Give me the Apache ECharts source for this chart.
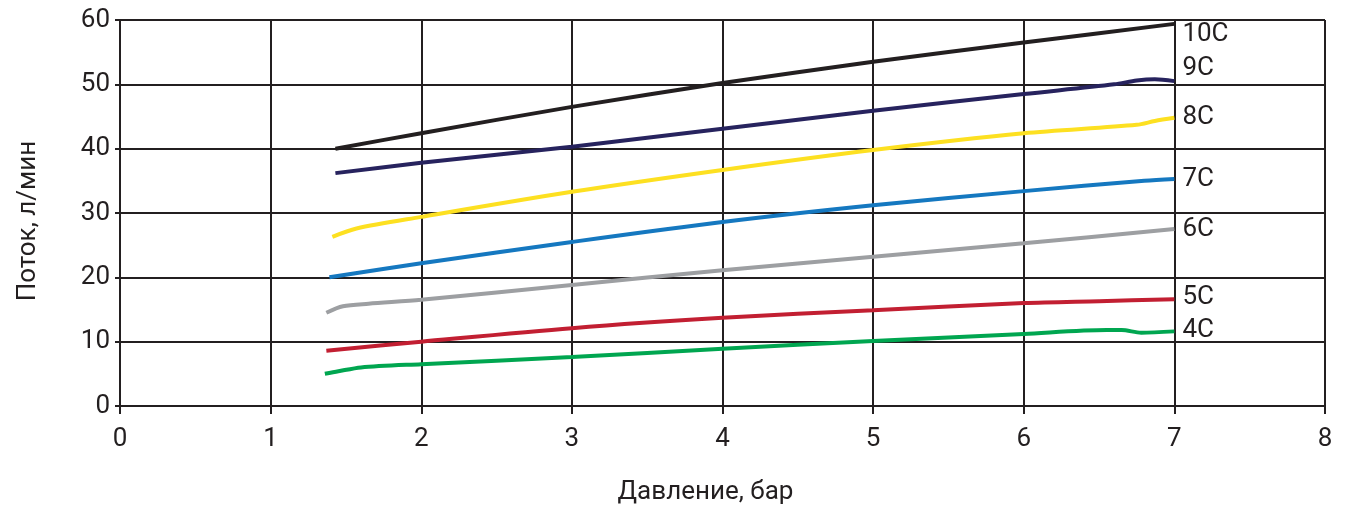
<!DOCTYPE html>
<html><head><meta charset="utf-8">
<script src="https://cdn.jsdelivr.net/npm/echarts@6/dist/echarts.min.js"></script>
<style>html,body{margin:0;padding:0;background:#fff}#c{width:1349px;height:515px}</style>
</head><body><div id="c"></div>
<script>
var seriesNames = ['10C','9C','8C','7C','6C','5C','4C'];
var s10C = [[1.43,40],[2,42.4],[3,46.5],[4,50.2],[5,53.5],[6,56.5],[7,59.4]];
var s9C = [[1.43,36.2],[2,37.8],[3,40.3],[4,43.1],[5,45.9],[6,48.5],[6.6,50.0],[6.75,50.6],[6.87,50.8],[7,50.5]];
var s8C = [[1.41,26.3],[1.57,27.6],[2,29.4],[3,33.3],[4,36.7],[5,39.8],[6,42.4],[6.75,43.7],[6.87,44.3],[7,44.8]];
var s7C = [[1.39,20.0],[2,22.2],[3,25.5],[4,28.6],[5,31.2],[6,33.4],[6.8,35.0],[7,35.3]];
var s6C = [[1.37,14.5],[1.48,15.5],[1.65,15.9],[2,16.5],[3,18.8],[4,21.1],[5,23.2],[6,25.3],[7,27.5]];
var s5C = [[1.37,8.6],[2,10.0],[3,12.1],[4,13.7],[5,14.9],[6,16.0],[6.5,16.3],[7,16.6]];
var s4C = [[1.36,5.0],[1.45,5.4],[1.6,6.0],[2,6.5],[3,7.6],[4,8.9],[5,10.1],[6,11.2],[6.55,11.8],[6.65,11.8],[6.78,11.4],[7,11.6]];
var seriesData = [s10C,s9C,s8C,s7C,s6C,s5C,s4C];
var colors = ['#231f20','#27235e','#fde021','#1578c0','#9d9fa2','#c21f32','#00a650'];
var labelOffsets = [[8,11],[8,-13],[8,0],[8,1],[8,0],[8,-2],[8,-1]];
var xTicks = {min:0,max:8,interval:1};
var yTicks = {min:0,max:60,interval:10};

var chart = echarts.init(document.getElementById('c'));
var font = 'Roboto';
var ink = '#231f20';
chart.setOption({
  animation:false,
  grid:{left:120,right:24,top:20,bottom:109,containLabel:false},
  xAxis:{type:'value',min:xTicks.min,max:xTicks.max,interval:xTicks.interval,
    name:'Давление, бар',nameLocation:'middle',nameGap:73,
    nameTextStyle:{fontFamily:font,fontSize:26,color:ink,padding:[0,34,0,0]},
    axisLine:{show:true,lineStyle:{color:ink,width:2}},
    axisTick:{show:true,length:8,lineStyle:{color:ink,width:2}},
    axisLabel:{fontFamily:font,fontSize:26,color:ink,margin:20},
    splitLine:{show:true,lineStyle:{color:ink,width:2}}},
  yAxis:{type:'value',min:yTicks.min,max:yTicks.max,interval:yTicks.interval,
    name:'Поток, л/мин',nameLocation:'middle',nameGap:79,
    nameTextStyle:{fontFamily:font,fontSize:26,color:ink,padding:[0,16,0,0]},
    axisLine:{show:true,lineStyle:{color:ink,width:2}},
    axisTick:{show:true,length:5,lineStyle:{color:ink,width:2}},
    axisLabel:{fontFamily:font,fontSize:26,color:ink,margin:10},
    splitLine:{show:true,lineStyle:{color:ink,width:2}}},
  series: seriesNames.map(function(n,i){
    return {name:n,type:'line',data:seriesData[i],smooth:0.3,showSymbol:false,symbol:'none',
      lineStyle:{color:colors[i],width:4},itemStyle:{color:colors[i]},
      endLabel:{show:true,formatter:n,fontFamily:font,fontSize:26,color:ink,
        offset:labelOffsets[i],distance:0}};
  })
});
</script></body></html>
